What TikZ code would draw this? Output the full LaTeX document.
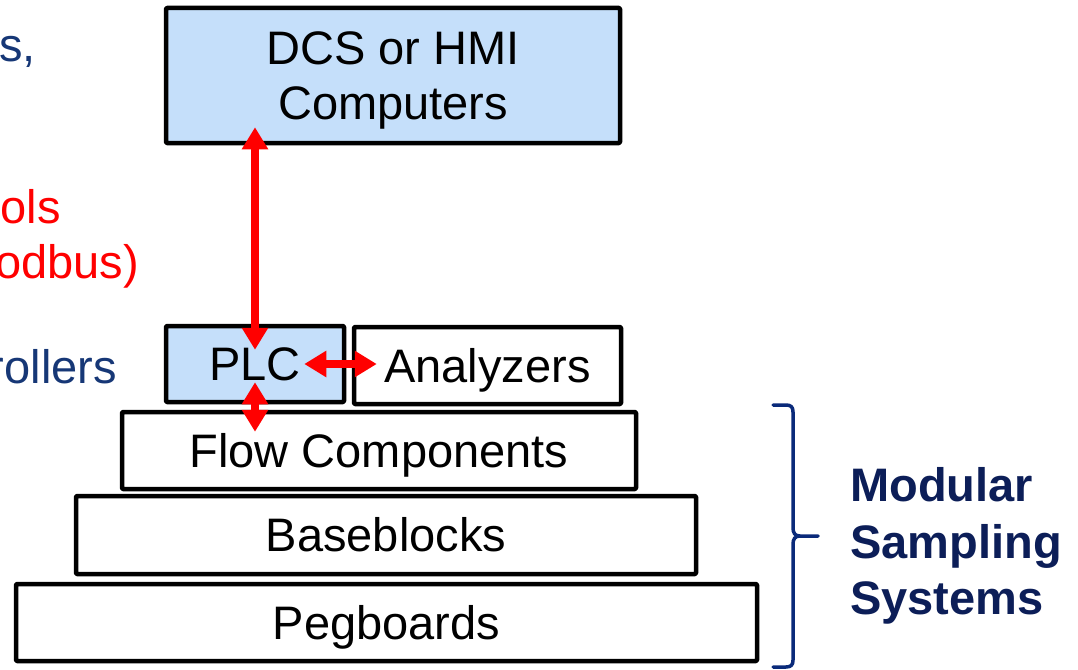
\documentclass[tikz,border=0pt]{standalone}
\usepackage{fontspec}
\setmainfont{Liberation Sans}
\usetikzlibrary{arrows.meta}

\definecolor{boxblue}{RGB}{197,223,250}
\definecolor{navytext}{RGB}{22,55,118}
\definecolor{bracenavy}{RGB}{10,42,122}
\definecolor{labelnavy}{RGB}{12,30,88}
\definecolor{linkred}{RGB}{255,0,0}

\tikzset{
  layer/.style={draw=black, line width=4.5pt, line join=round, rounded corners=1pt,
    fill=white, inner sep=0pt, font=\fontsize{47}{55}\selectfont,
    text height=33.6pt, text depth=0pt},
  bluelayer/.style={layer, fill=boxblue},
  sidetext/.style={inner sep=0pt, anchor=base east, font=\fontsize{47}{55}\selectfont},
  link/.style={draw=linkred, line width=8.5pt,
    {Triangle[width=25pt,length=22pt]}-{Triangle[width=25pt,length=22pt]}},
}

\begin{document}
\begin{tikzpicture}[x=1pt, y=-1pt]
  \useasboundingbox (0,0) rectangle (1078,669);
  \clip (0,0) rectangle (1078,669);

  % stacked layers of the sampling system
  \node[bluelayer, minimum width=454pt, minimum height=135pt, align=center,
        text height=88.6pt] (dcs) at (393,75.5) {DCS or HMI\\Computers};
  \node[bluelayer, minimum width=178pt, minimum height=76pt] (plc) at (255,364) {PLC};
  \node[layer, minimum width=267pt, minimum height=77pt] (ana) at (487.5,365.5) {Analyzers};
  \node[layer, minimum width=514pt, minimum height=77pt] (flow) at (379,450.5) {Flow Components};
  \node[layer, minimum width=620pt, minimum height=78pt] (base) at (386,535) {Baseblocks};
  \node[layer, minimum width=741pt, minimum height=77pt] (peg) at (386.5,622.5) {Pegboards};

  % communication links
  \draw[link, shorten <=-18pt, shorten >=-26pt] (plc.north |- dcs.south) -- (plc.north);
  \draw[link, shorten <=-42pt, shorten >=-25pt] (plc.east) -- (plc.east -| ana.west);
  \draw[link, shorten <=-22pt, shorten >=-22pt] (plc.south) -- (plc.south |- flow.north);

  % side labels on the left
  \node[sidetext, text=navytext] (t1) at (36,61) {s,};
  \node[sidetext, text=linkred] (t2) at (61,223) {ols};
  \node[sidetext, text=linkred] (t3) at (139,278) {odbus)};
  \node[sidetext, text=navytext] (t4) at (117,383) {rollers};

  % brace grouping the modular layers
  \coordinate (bt) at (773,405);
  \coordinate (bm) at (818,536);
  \coordinate (bb) at (773,667);
  \draw[bracenavy, line width=3.5pt, line cap=round, line join=round]
    (bt) -- (786,405) .. controls (791,405) and (793,407) .. (793,412)
    -- (793,528) .. controls (793,533) and (795,536) .. (800,536) -- (bm)
    (800,536) .. controls (795,536) and (793,539) .. (793,544)
    -- (793,660) .. controls (793,665) and (791,667) .. (786,667) -- (bb);

  \node[inner sep=0pt, anchor=north west, align=left, text=labelnavy,
        font=\fontsize{47}{56.5}\selectfont\bfseries, text height=146.6pt, text depth=0pt]
        (mss) at (850,468) {Modular\\Sampling\\Systems};
\end{tikzpicture}
\end{document}
